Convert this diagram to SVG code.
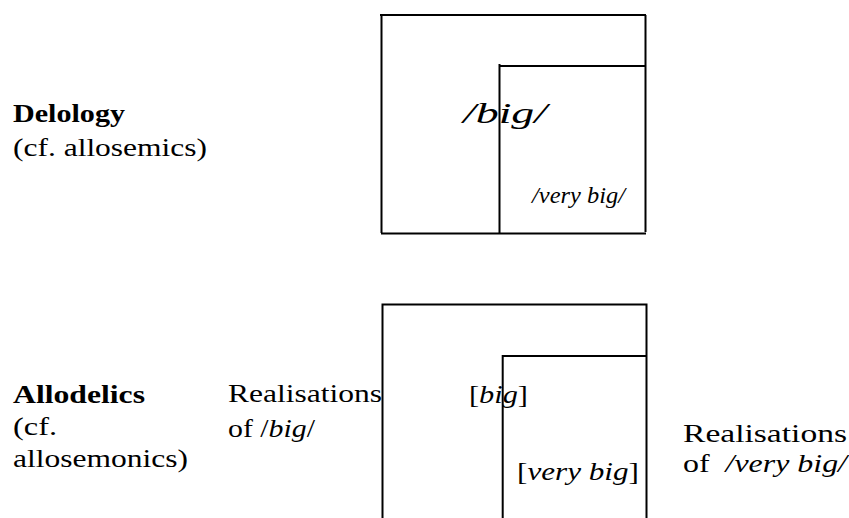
<svg xmlns="http://www.w3.org/2000/svg" width="849" height="518" viewBox="0 0 849 518">
<style>
.t{font-family:"Liberation Serif","Times New Roman",Times,serif;font-size:26px;fill:#000}
.b{font-weight:bold}
.i{font-style:italic}
.ln{stroke:#000;stroke-width:2;fill:none}
</style>
<rect width="849" height="518" fill="#fff"/>
<g id="labels-top">
<text class="t b" x="13" y="122" textLength="112" lengthAdjust="spacingAndGlyphs">Delology</text>
<text class="t" x="13" y="156" textLength="194" lengthAdjust="spacingAndGlyphs">(cf. allosemics)</text>
</g>
<g id="node-big-top">
<path class="ln" d="M380 15 H646 M381.5 15 V233 M645.5 15 V232 M381 233.5 H646"/>
<text class="t i" x="463" y="123" style="font-size:29px" textLength="84" lengthAdjust="spacingAndGlyphs">/big/</text>
</g>
<g id="node-verybig-top">
<path class="ln" d="M499.5 64 V233 M499.5 66 H645.5"/>
<text class="t i" x="532" y="203" style="font-size:23px" textLength="93" lengthAdjust="spacingAndGlyphs">/very big/</text>
</g>
<g id="labels-bottom">
<text class="t b" x="13" y="403" textLength="132" lengthAdjust="spacingAndGlyphs">Allodelics</text>
<text class="t" x="13" y="435" textLength="44" lengthAdjust="spacingAndGlyphs">(cf.</text>
<text class="t" x="13" y="467" textLength="175" lengthAdjust="spacingAndGlyphs">allosemonics)</text>
<text class="t" x="228" y="402" textLength="154" lengthAdjust="spacingAndGlyphs">Realisations</text>
<text class="t" x="228" y="437" textLength="87" lengthAdjust="spacingAndGlyphs">of /<tspan class="i">big</tspan>/</text>
<text class="t" x="683" y="442" textLength="164" lengthAdjust="spacingAndGlyphs">Realisations</text>
<text class="t" x="683" y="472" textLength="164" lengthAdjust="spacingAndGlyphs" xml:space="preserve">of  <tspan class="i">/very big/</tspan></text>
</g>
<g id="node-big-bottom">
<path class="ln" d="M382.5 304.5 H646.5 M382.5 303.5 V518 M646.5 303.5 V518"/>
<text class="t" x="469" y="403" textLength="59" lengthAdjust="spacingAndGlyphs">[<tspan class="i">big</tspan>]</text>
</g>
<g id="node-verybig-bottom">
<path class="ln" d="M502.7 356 H646.5 M502.7 355 V518"/>
<text class="t" x="517" y="480" textLength="122" lengthAdjust="spacingAndGlyphs">[<tspan class="i">very big</tspan>]</text>
</g>
<g id="connectors"></g>
</svg>
